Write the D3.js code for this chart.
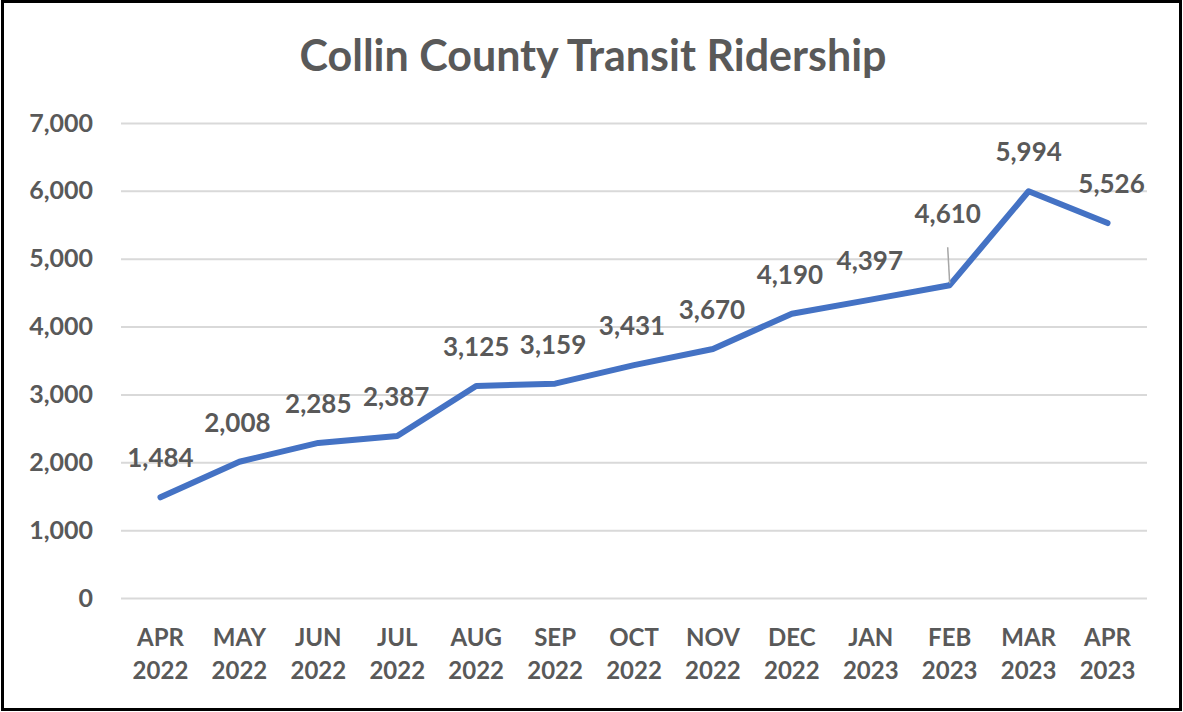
<!DOCTYPE html>
<html lang="en">
<head>
<meta charset="UTF-8">
<title>Collin County Transit Ridership</title>
<script src="https://d3js.org/d3.v7.min.js"></script>
<style>
    body { margin: 0; background: #fff; }
    text { font-family: Lato, "Open Sans", sans-serif; font-weight: bold; fill: #595959; }
</style>
</head>
<body>
<svg id="chart"></svg>
<script>
    // month labels, two lines each
    months = ["APR", "MAY", "JUN", "JUL", "AUG", "SEP", "OCT", "NOV", "DEC", "JAN", "FEB", "MAR", "APR"];
    years = ["2022", "2022", "2022", "2022", "2022", "2022", "2022", "2022", "2022", "2023", "2023", "2023", "2023"];
    riders = [1484, 2008, 2285, 2387, 3125, 3159, 3431, 3670, 4190, 4397, 4610, 5994, 5526];
    yTicks = [0, 1000, 2000, 3000, 4000, 5000, 6000, 7000];

    W = 1183;
    H = 712;
    plot = {left: 121, right: 1147, top: 123, bottom: 598};

    svg = d3.select("#chart")
        .attr("width", W)
        .attr("height", H);

    // outer frame
    svg.append("rect")
        .attr("x", 2.5).attr("y", 1.5)
        .attr("width", W - 5).attr("height", H - 4)
        .attr("fill", "#fff")
        .attr("stroke", "#000")
        .attr("stroke-width", 3);

    svg.append("text")
        .attr("x", 593)
        .attr("y", 71)
        .attr("text-anchor", "middle")
        .style("font-size", "43px")
        .text("Collin County Transit Ridership");

    idx = d3.range(riders.length);

    xScale = d3.scalePoint()
        .domain(idx)
        .range([plot.left, plot.right])
        .padding(0.5);

    yScale = d3.scaleLinear()
        .domain([0, 7000])
        .range([plot.bottom, plot.top]);

    // gridlines + y labels
    yAxis = d3.axisLeft(yScale)
        .tickValues(yTicks)
        .tickSize(-(plot.right - plot.left))
        .tickPadding(28)
        .tickFormat(d3.format(","));

    gy = svg.append("g")
        .attr("transform", `translate(${plot.left},0)`)
        .call(yAxis);
    gy.select(".domain").remove();
    gy.selectAll("line").attr("stroke", "#d9d9d9").attr("stroke-width", 2);
    gy.selectAll("text")
        .style("font-family", "Lato, sans-serif")
        .style("font-size", "25px")
        .attr("fill", "#595959");

    // x labels
    xl = svg.append("g").selectAll("text")
        .data(idx)
        .join("text")
        .attr("text-anchor", "middle")
        .attr("transform", d => `translate(${xScale(d)},0)`)
        .style("font-size", "24px");
    xl.append("tspan").attr("x", 0).attr("y", 646).text(d => months[d]);
    xl.append("tspan").attr("x", 0).attr("y", 679).text(d => years[d]);

    line = d3.line()
        .x(d => xScale(d))
        .y(d => yScale(riders[d]));

    svg.append("path")
        .datum(idx)
        .attr("d", line)
        .attr("fill", "none")
        .attr("stroke", "#4472C4")
        .attr("stroke-width", 6)
        .attr("stroke-linejoin", "round")
        .attr("stroke-linecap", "round");

    // label nudges where Excel moved labels
    dx = [0, -2, 0, -1, 0, -2, -2, -1, -2, -1, -2, 0, 4];
    dy = [0, 0, 0, 0, 0, 0, 0, 0, 0, 0, -32, 0, 0];

    // leader line for the moved label
    svg.append("line")
        .attr("x1", xScale(10) - 2).attr("y1", yScale(riders[10]) - 38)
        .attr("x2", xScale(10)).attr("y2", yScale(riders[10]) - 2)
        .attr("stroke", "#a6a6a6")
        .attr("stroke-width", 1.5);

    svg.append("g").selectAll("text")
        .data(idx)
        .join("text")
        .attr("x", d => xScale(d) + dx[d])
        .attr("y", d => yScale(riders[d]) - 30 + dy[d])
        .attr("text-anchor", "middle")
        .style("font-size", "26px")
        .text(d => d3.format(",")(riders[d]));
</script>
</body>
</html>
